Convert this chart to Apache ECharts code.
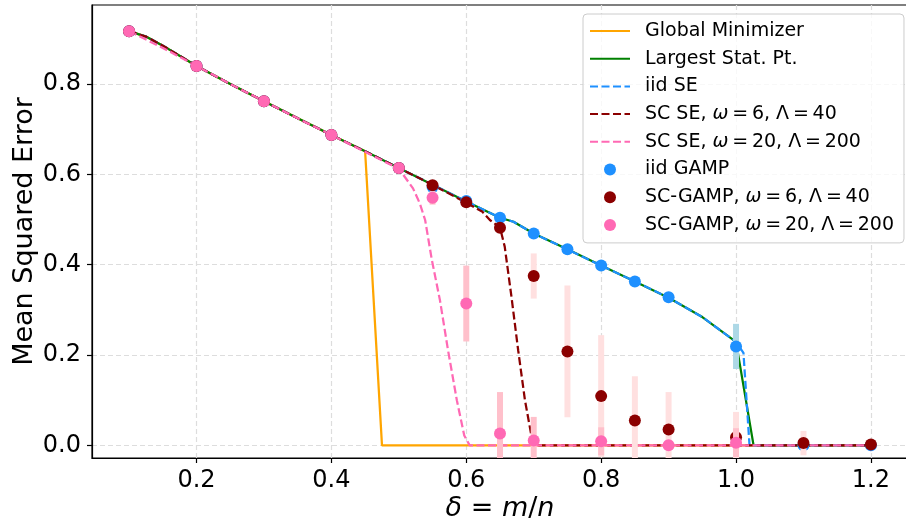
<!DOCTYPE html>
<html>
<head>
<meta charset="utf-8">
<script src="https://cdn.jsdelivr.net/npm/echarts@6/dist/echarts.min.js"></script>
<style>html,body{margin:0;padding:0;background:#fff}#c{width:906px;height:527px}</style>
</head>
<body>
<div id="c"></div>
<script>
const xTicks = [0.2, 0.4, 0.6, 0.8, 1.0, 1.2];
const yTicks = [0.0, 0.2, 0.4, 0.6, 0.8];

// Global Minimizer
const gmX = [0.1, 0.125, 0.15, 0.2, 0.25, 0.3, 0.35, 0.38, 0.4, 0.45, 0.475, 1.2];
const gmY = [0.917, 0.905, 0.885, 0.840, 0.800, 0.762, 0.724, 0.702, 0.687, 0.651, 0.0, 0.0];
// Largest Stat. Pt.
const lsX = [0.1, 0.125, 0.15, 0.2, 0.25, 0.3, 0.35, 0.38, 0.4, 0.45, 0.5, 0.55, 0.6, 0.65, 0.67, 0.7, 0.75, 0.8, 0.85, 0.9, 0.95, 1.0, 1.026, 1.2];
const lsY = [0.917, 0.905, 0.885, 0.840, 0.800, 0.762, 0.724, 0.702, 0.687, 0.651, 0.614, 0.577, 0.540, 0.504, 0.495, 0.469, 0.434, 0.398, 0.363, 0.327, 0.284, 0.229, 0.0, 0.0];
// iid SE
const iseX = [0.1, 0.125, 0.15, 0.2, 0.25, 0.3, 0.35, 0.38, 0.4, 0.45, 0.5, 0.55, 0.6, 0.65, 0.67, 0.7, 0.75, 0.8, 0.85, 0.9, 0.95, 1.0, 1.011, 1.02, 1.2];
const iseY = [0.917, 0.905, 0.885, 0.840, 0.800, 0.762, 0.724, 0.702, 0.687, 0.651, 0.614, 0.577, 0.540, 0.504, 0.495, 0.469, 0.434, 0.398, 0.363, 0.327, 0.284, 0.229, 0.205, 0.0, 0.0];
// SC SE, omega=6, Lambda=40
const s6X = [0.1, 0.125, 0.15, 0.2, 0.25, 0.3, 0.35, 0.38, 0.4, 0.45, 0.5, 0.55, 0.6, 0.624, 0.635, 0.65, 0.657, 0.667, 0.677, 0.687, 0.697, 0.705, 1.2];
const s6Y = [0.917, 0.905, 0.885, 0.840, 0.800, 0.762, 0.724, 0.702, 0.687, 0.651, 0.614, 0.577, 0.537, 0.517, 0.499, 0.482, 0.440, 0.329, 0.210, 0.100, 0.018, 0.0, 0.0];
// SC SE, omega=20, Lambda=200
const s20X = [0.1, 0.15, 0.2, 0.25, 0.3, 0.35, 0.4, 0.45, 0.5, 0.51, 0.521, 0.531, 0.539, 0.549, 0.561, 0.573, 0.586, 0.597, 0.605, 1.2];
const s20Y = [0.917, 0.880, 0.840, 0.800, 0.762, 0.724, 0.687, 0.650, 0.612, 0.592, 0.569, 0.536, 0.499, 0.410, 0.321, 0.210, 0.100, 0.022, 0.0, 0.0];

// iid GAMP
const iidX = [0.1, 0.2, 0.3, 0.4, 0.5, 0.55, 0.6, 0.65, 0.7, 0.75, 0.8, 0.85, 0.9, 1.0, 1.1, 1.2];
const iidY = [0.917, 0.840, 0.762, 0.687, 0.614, 0.572, 0.541, 0.504, 0.469, 0.434, 0.398, 0.363, 0.328, 0.219, 0.0, 0.0];
const iidErr = [0.004, 0.004, 0.004, 0.004, 0.005, 0.006, 0.006, 0.006, 0.006, 0.006, 0.006, 0.006, 0.006, 0.05, 0.003, 0.002];
// SC-GAMP omega=6
const sc6X = [0.1, 0.2, 0.3, 0.4, 0.5, 0.55, 0.6, 0.65, 0.7, 0.75, 0.8, 0.85, 0.9, 1.0, 1.1, 1.2];
const sc6Y = [0.917, 0.840, 0.762, 0.687, 0.614, 0.576, 0.538, 0.482, 0.375, 0.208, 0.109, 0.055, 0.035, 0.018, 0.005, 0.002];
const sc6Err = [0.003, 0.003, 0.003, 0.003, 0.004, 0.006, 0.008, 0.010, 0.050, 0.146, 0.135, 0.098, 0.083, 0.056, 0.027, 0.004];
// SC-GAMP omega=20
const sc20X = [0.1, 0.2, 0.3, 0.4, 0.5, 0.55, 0.6, 0.65, 0.7, 0.8, 0.9, 1.0];
const sc20Y = [0.917, 0.840, 0.762, 0.687, 0.614, 0.548, 0.314, 0.026, 0.011, 0.009, 0.0, 0.006];
const sc20Err = [0.003, 0.003, 0.003, 0.003, 0.004, 0.015, 0.084, 0.092, 0.052, 0.031, 0.010, 0.032];

const names = ['Global Minimizer', 'Largest Stat. Pt.', 'iid SE',
  'SC SE, ω = 6, Λ = 40', 'SC SE, ω = 20, Λ = 200',
  'iid GAMP', 'SC-GAMP, ω = 6, Λ = 40', 'SC-GAMP, ω = 20, Λ = 200'];

const FONT = 'DejaVu Sans';
const zip = (a, b) => a.map((v, i) => [v, b[i]]);
const errData = (x, y, e) => x.map((v, i) => [v, y[i] - e[i], y[i] + e[i]]);

function lineSeries(name, x, y, color, dashed, z) {
  return {
    type: 'line', name: name, data: zip(x, y), symbol: 'none', z: z,
    lineStyle: { color: color, width: 2.25, type: dashed ? [8, 3.5] : 'solid', cap: 'butt' },
    itemStyle: { color: color }, clip: true, animation: false
  };
}
function errSeries(name, x, y, e, color, z) {
  return {
    type: 'custom', name: name, data: errData(x, y, e), z: z, animation: false,
    encode: { x: 0, y: [1, 2] },
    renderItem: function (params, api) {
      const xv = api.value(0), lo = api.value(1), hi = api.value(2);
      const p1 = api.coord([xv, hi]), p2 = api.coord([xv, lo]);
      const cs = params.coordSys;
      const w = 6;
      const r = echarts.graphic.clipRectByRect(
        { x: p1[0] - w / 2, y: p1[1], width: w, height: p2[1] - p1[1] },
        { x: cs.x, y: cs.y, width: cs.width, height: cs.height });
      if (!r) return null;
      return { type: 'rect', shape: r, style: { fill: color } };
    }
  };
}
function dotSeries(name, x, y, color, z) {
  return {
    type: 'scatter', name: name, data: zip(x, y), symbol: 'circle', symbolSize: 12, z: z,
    itemStyle: { color: color, opacity: 1 }, animation: false, clip: true
  };
}

const legendData = names.map((n, i) => i < 5
  ? { name: n, itemStyle: { color: 'rgba(0,0,0,0)', borderWidth: 0, opacity: 0 } }
  : { name: n });

const chart = echarts.init(document.getElementById('c'), null, { renderer: 'canvas' });
chart.setOption({
  animation: false,
  backgroundColor: '#ffffff',
  textStyle: { fontFamily: FONT },
  grid: { left: 92, top: 5, width: 816, height: 453, show: true, borderColor: '#000', borderWidth: 1.2,
    backgroundColor: 'transparent', containLabel: false, outerBoundsMode: 'none' },
  xAxis: {
    type: 'value', min: 0.045, max: 1.255,
    name: '{i|δ} = {i|m}/{i|n}', nameLocation: 'middle', nameGap: 37, nameMoveOverlap: false,
    nameTextStyle: { fontSize: 27, fontFamily: FONT, color: '#000',
      rich: { i: { fontStyle: 'italic', fontSize: 27, fontFamily: FONT, color: '#000' } } },
    axisLine: { show: true, onZero: false, lineStyle: { color: '#000', width: 1.2 } },
    axisTick: { show: true, inside: false, length: 5, lineStyle: { color: '#000', width: 1.2 }, customValues: xTicks },
    axisLabel: { fontSize: 24, color: '#000', fontFamily: FONT, margin: 11, customValues: xTicks, formatter: v => v.toFixed(1) },
    splitLine: { show: true, lineStyle: { color: '#dddddd', width: 1.2, type: [5, 3] } }
  },
  yAxis: {
    type: 'value', min: -0.028, max: 0.975,
    name: 'Mean Squared Error', nameLocation: 'middle', nameGap: 54, nameRotate: 90, nameMoveOverlap: false,
    nameTextStyle: { fontSize: 27, fontFamily: FONT, color: '#000' },
    axisLine: { show: true, onZero: false, lineStyle: { color: '#000', width: 1.2 } },
    axisTick: { show: true, inside: false, length: 5, lineStyle: { color: '#000', width: 1.2 }, customValues: yTicks },
    axisLabel: { fontSize: 24, color: '#000', fontFamily: FONT, margin: 11, customValues: yTicks, formatter: v => v.toFixed(1) },
    splitLine: { show: true, lineStyle: { color: '#dddddd', width: 1.2, type: [5, 3] } }
  },
  legend: {
    data: legendData, orient: 'vertical', left: 583, top: 14,
    padding: [6, 10, 7, 6], itemGap: 5.7, itemWidth: 40, itemHeight: 12,
    backgroundColor: 'rgba(255,255,255,0.8)', borderColor: '#cccccc', borderWidth: 1, borderRadius: 4,
    formatter: function (n) { return n.replace(/ω/g, '{i|ω}').replace(/ = /g, '\u2009=\u2009'); },
    textStyle: { fontSize: 19, fontFamily: FONT, color: '#000', lineHeight: 22, padding: [0, 0, 0, 10],
      rich: { i: { fontStyle: 'italic', fontSize: 19, fontFamily: FONT, color: '#000', lineHeight: 22 } } },
    selectedMode: false
  },
  series: [
    lineSeries(names[0], gmX, gmY, '#FFA500', false, 2),
    lineSeries(names[1], lsX, lsY, '#008000', false, 3),
    lineSeries(names[2], iseX, iseY, '#1E90FF', true, 4),
    lineSeries(names[3], s6X, s6Y, '#8B0000', true, 5),
    lineSeries(names[4], s20X, s20Y, '#FF69B4', true, 6),
    errSeries('iid GAMP err', iidX, iidY, iidErr, '#ADD8E6', 7),
    dotSeries(names[5], iidX, iidY, '#1E90FF', 8),
    errSeries('SC6 err', sc6X, sc6Y, sc6Err, '#FFE0E0', 9),
    dotSeries(names[6], sc6X, sc6Y, '#8B0000', 10),
    errSeries('SC20 err', sc20X, sc20Y, sc20Err, '#FFC0CB', 11),
    dotSeries(names[7], sc20X, sc20Y, '#FF69B4', 12)
  ]
});
</script>
</body>
</html>
